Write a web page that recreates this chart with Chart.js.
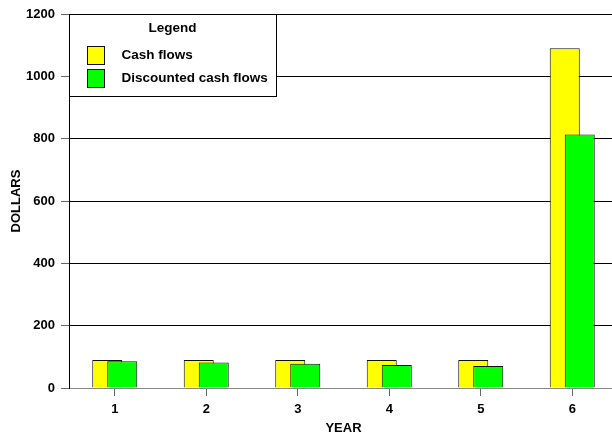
<!DOCTYPE html>
<html>
<head>
<meta charset="utf-8">
<script src="https://cdn.jsdelivr.net/npm/chart.js@4/dist/chart.umd.min.js"></script>
<style>
  html, body { margin: 0; padding: 0; background: #fff; overflow: hidden; }
  #wrap { width: 618px; height: 436px; }
</style>
</head>
<body>
<div id="wrap"><canvas id="chart" width="618" height="436"></canvas></div>
<script>
var anos = ['1', '2', '3', '4', '5', '6'];
var fluxoCaixa = [90, 90, 90, 90, 90, 1090];
var fluxoDescontado = [85.7, 81.6, 77.7, 74.0, 70.5, 813.4];
var ticksY = [0, 200, 400, 600, 800, 1000, 1200];

var fonte = { family: 'Liberation Sans, Arial, sans-serif', size: 13, weight: 'bold' };

// a barra verde fica por cima da amarela: adia o desenho dela para o fim
var ordemDesenho = {
    id: 'ordemDesenho',
    beforeDatasetDraw: function (chart, args) {
        if (args.index === 1) return false;
    },
    afterDatasetsDraw: function (chart) {
        var area = chart.chartArea;
        var ctx = chart.ctx;
        ctx.save();
        ctx.beginPath();
        ctx.rect(area.left, area.top, area.right - area.left, area.bottom - area.top);
        ctx.clip();
        chart.getDatasetMeta(1).controller.draw();
        ctx.restore();
    }
};

// caixa de legenda no canto superior esquerdo, como no original
var legendaBox = {
    id: 'legendaBox',
    afterDatasetsDraw: function (chart) {
        var ctx = chart.ctx;
        var area = chart.chartArea;
        var x0 = Math.round(area.left) + 0.5;
        var y0 = Math.round(area.top) + 0.5;
        ctx.save();
        ctx.fillStyle = '#fff';
        ctx.strokeStyle = '#000';
        ctx.lineWidth = 1;
        ctx.fillRect(x0, y0, 207, 82);
        ctx.strokeRect(x0, y0, 207, 82);

        ctx.font = 'bold 13.5px Liberation Sans, Arial, sans-serif';
        ctx.fillStyle = '#000';
        ctx.textBaseline = 'middle';
        ctx.textAlign = 'center';
        ctx.fillText('Legend', x0 + 103, y0 + 14);

        ctx.textAlign = 'left';
        var ds = chart.data.datasets;
        for (var i = 0; i < ds.length; i++) {
            var yy = y0 + 32 + i * 23;
            ctx.fillStyle = ds[i].backgroundColor;
            ctx.fillRect(x0 + 18, yy, 17, 18);
            ctx.strokeStyle = '#111';
            ctx.strokeRect(x0 + 18, yy, 17, 18);
            ctx.fillStyle = '#000';
            ctx.fillText(ds[i].label, x0 + 52, yy + 9);
        }
        ctx.restore();
    }
};

new Chart(document.getElementById('chart'), {
    type: 'bar',
    data: {
        labels: anos,
        datasets: [{
            label: 'Cash flows',
            data: fluxoCaixa,
            backgroundColor: '#ffff00',
            borderColor: '#111',
            borderWidth: 1,
            categoryPercentage: 0.328,
            barPercentage: 2
        }, {
            label: 'Discounted cash flows',
            data: fluxoDescontado,
            backgroundColor: '#00ff00',
            borderColor: '#111',
            borderWidth: 1,
            categoryPercentage: 0.328,
            barPercentage: 2
        }]
    },
    options: {
        responsive: false,
        animation: false,
        layout: { padding: { top: 14, left: 0, right: 0, bottom: 0 } },
        plugins: {
            legend: { display: false },
            tooltip: { enabled: false }
        },
        scales: {
            x: {
                afterFit: function (scale) { scale.height = 48; },
                grid: {
                    offset: false,
                    drawOnChartArea: false,
                    drawTicks: true,
                    tickLength: 8,
                    tickColor: '#666'
                },
                border: { color: '#888', width: 1 },
                ticks: { color: '#000', font: fonte, padding: 6 },
                title: { display: true, text: 'YEAR', color: '#000', font: fonte, padding: { top: 0, bottom: 0 } }
            },
            y: {
                min: 0,
                max: 1200,
                afterFit: function (scale) { scale.width = 69; },
                afterBuildTicks: function (scale) {
                    scale.ticks = ticksY.map(function (v) { return { value: v }; });
                },
                grid: {
                    color: function (c) { return c.tick && c.tick.value === 0 ? '#888' : '#000'; },
                    tickColor: '#666',
                    tickLength: 8
                },
                border: { color: '#000', width: 1 },
                ticks: {
                    color: '#000',
                    font: fonte,
                    padding: 6,
                    callback: function (v) { return String(v); }
                },
                title: { display: true, text: 'DOLLARS', color: '#000', font: fonte, padding: { top: 9, bottom: 0 } }
            }
        }
    },
    plugins: [ordemDesenho, legendaBox]
});
</script>
</body>
</html>
